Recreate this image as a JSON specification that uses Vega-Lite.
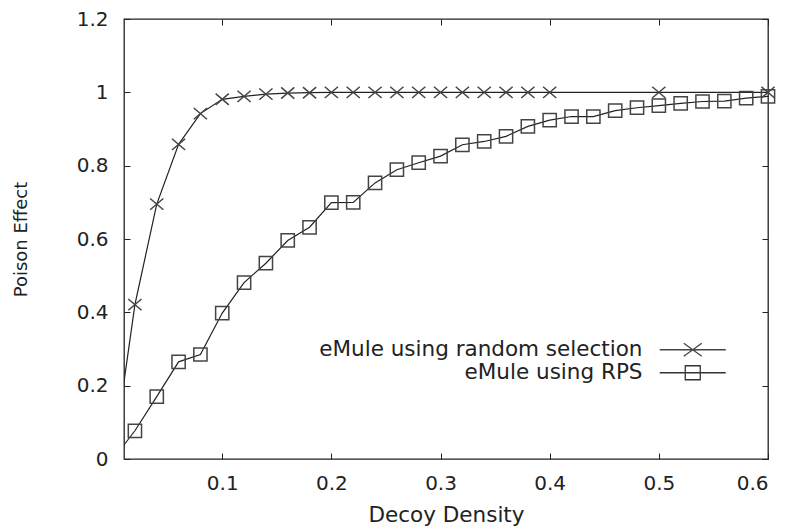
{
  "$schema": "https://vega.github.io/schema/vega-lite/v6.json",
  "width": 644,
  "height": 440,
  "autosize": {"type": "none"},
  "padding": {"left": 124, "top": 19, "right": 24, "bottom": 72},
  "background": "white",
  "config": {
    "view": {"stroke": "#222", "strokeWidth": 1.3},
    "axis": {
      "labelFont": "DejaVu Sans",
      "labelFontSize": 20,
      "labelColor": "#222",
      "titleFont": "DejaVu Sans",
      "titleFontWeight": "normal",
      "titleColor": "#222",
      "tickColor": "#222",
      "tickWidth": 1,
      "tickSize": -6,
      "domain": false,
      "grid": false
    },
    "legend": {
      "title": null,
      "orient": "none",
      "padding": 0,
      "labelFont": "DejaVu Sans",
      "labelFontSize": 21.5,
      "labelColor": "#222",
      "labelAlign": "right",
      "labelOffset": -61,
      "labelLimit": 600,
      "symbolSize": 4,
      "rowPadding": 0,
      "symbolStrokeWidth": 1.3,
      "symbolStrokeColor": "#333",
      "symbolFillColor": "transparent",
      "symbolOpacity": 1
    }
  },
  "data": {
    "values": [
      {"series": "eMule using random selection", "x": 0.0, "y": 0.0},
      {"series": "eMule using random selection", "x": 0.02, "y": 0.421},
      {"series": "eMule using random selection", "x": 0.04, "y": 0.695},
      {"series": "eMule using random selection", "x": 0.06, "y": 0.858},
      {"series": "eMule using random selection", "x": 0.08, "y": 0.942},
      {"series": "eMule using random selection", "x": 0.10, "y": 0.981},
      {"series": "eMule using random selection", "x": 0.12, "y": 0.989},
      {"series": "eMule using random selection", "x": 0.14, "y": 0.995},
      {"series": "eMule using random selection", "x": 0.16, "y": 0.998},
      {"series": "eMule using random selection", "x": 0.18, "y": 0.999},
      {"series": "eMule using random selection", "x": 0.20, "y": 1.0},
      {"series": "eMule using random selection", "x": 0.22, "y": 1.0},
      {"series": "eMule using random selection", "x": 0.24, "y": 1.0},
      {"series": "eMule using random selection", "x": 0.26, "y": 1.0},
      {"series": "eMule using random selection", "x": 0.28, "y": 1.0},
      {"series": "eMule using random selection", "x": 0.30, "y": 1.0},
      {"series": "eMule using random selection", "x": 0.32, "y": 1.0},
      {"series": "eMule using random selection", "x": 0.34, "y": 1.0},
      {"series": "eMule using random selection", "x": 0.36, "y": 1.0},
      {"series": "eMule using random selection", "x": 0.38, "y": 1.0},
      {"series": "eMule using random selection", "x": 0.40, "y": 1.0},
      {"series": "eMule using random selection", "x": 0.50, "y": 1.0},
      {"series": "eMule using random selection", "x": 0.60, "y": 1.0},
      {"series": "eMule using RPS", "x": 0.0, "y": 0.0},
      {"series": "eMule using RPS", "x": 0.02, "y": 0.077},
      {"series": "eMule using RPS", "x": 0.04, "y": 0.170},
      {"series": "eMule using RPS", "x": 0.06, "y": 0.265},
      {"series": "eMule using RPS", "x": 0.08, "y": 0.285},
      {"series": "eMule using RPS", "x": 0.10, "y": 0.398},
      {"series": "eMule using RPS", "x": 0.12, "y": 0.481},
      {"series": "eMule using RPS", "x": 0.14, "y": 0.534},
      {"series": "eMule using RPS", "x": 0.16, "y": 0.596},
      {"series": "eMule using RPS", "x": 0.18, "y": 0.632},
      {"series": "eMule using RPS", "x": 0.20, "y": 0.699},
      {"series": "eMule using RPS", "x": 0.22, "y": 0.700},
      {"series": "eMule using RPS", "x": 0.24, "y": 0.753},
      {"series": "eMule using RPS", "x": 0.26, "y": 0.789},
      {"series": "eMule using RPS", "x": 0.28, "y": 0.808},
      {"series": "eMule using RPS", "x": 0.30, "y": 0.826},
      {"series": "eMule using RPS", "x": 0.32, "y": 0.857},
      {"series": "eMule using RPS", "x": 0.34, "y": 0.866},
      {"series": "eMule using RPS", "x": 0.36, "y": 0.880},
      {"series": "eMule using RPS", "x": 0.38, "y": 0.907},
      {"series": "eMule using RPS", "x": 0.40, "y": 0.924},
      {"series": "eMule using RPS", "x": 0.42, "y": 0.934},
      {"series": "eMule using RPS", "x": 0.44, "y": 0.934},
      {"series": "eMule using RPS", "x": 0.46, "y": 0.950},
      {"series": "eMule using RPS", "x": 0.48, "y": 0.958},
      {"series": "eMule using RPS", "x": 0.50, "y": 0.964},
      {"series": "eMule using RPS", "x": 0.52, "y": 0.970},
      {"series": "eMule using RPS", "x": 0.54, "y": 0.975},
      {"series": "eMule using RPS", "x": 0.56, "y": 0.976},
      {"series": "eMule using RPS", "x": 0.58, "y": 0.984},
      {"series": "eMule using RPS", "x": 0.60, "y": 0.989}
    ]
  },
  "layer": [
    {
      "mark": {"type": "line", "clip": true, "color": "#222", "strokeWidth": 1.2},
      "encoding": {
        "x": {
          "field": "x", "type": "quantitative",
          "scale": {"domain": [0.01, 0.6], "nice": false, "zero": false},
          "axis": {"orient": "bottom", "values": [0.1, 0.2, 0.3, 0.4, 0.5, 0.6], "format": "~g", "labelPadding": 20, "title": "Decoy Density", "titleFontSize": 21.5, "titlePadding": 11}
        },
        "y": {
          "field": "y", "type": "quantitative",
          "scale": {"domain": [0, 1.2], "nice": false, "zero": false},
          "axis": {"orient": "left", "values": [0, 0.2, 0.4, 0.6, 0.8, 1, 1.2], "format": "~g", "labelPadding": 22, "title": "Poison Effect", "titleFontSize": 18, "titlePadding": 46}
        },
        "detail": {"field": "series"}
      }
    },
    {
      "transform": [{"filter": "datum.x > 0.005"}],
      "mark": {"type": "point", "filled": false, "size": 175, "strokeWidth": 1.5},
      "encoding": {
        "x": {
          "field": "x", "type": "quantitative",
          "scale": {"domain": [0.01, 0.6], "nice": false, "zero": false},
          "axis": {"orient": "top", "values": [0.1, 0.2, 0.3, 0.4, 0.5, 0.6], "labels": false, "title": null}
        },
        "y": {
          "field": "y", "type": "quantitative",
          "scale": {"domain": [0, 1.2], "nice": false, "zero": false},
          "axis": {"orient": "right", "values": [0, 0.2, 0.4, 0.6, 0.8, 1, 1.2], "labels": false, "title": null}
        },
        "shape": {
          "field": "series", "type": "nominal",
          "scale": {
            "domain": ["eMule using RPS", "eMule using random selection", "none"],
            "range": ["square", "M-1,-0.85L1,0.85M-1,0.85L1,-0.85", "circle"]
          },
          "legend": null
        },
        "color": {
          "field": "series", "type": "nominal",
          "scale": {
            "domain": ["eMule using random selection", "eMule using RPS"],
            "range": ["#444", "#444"]
          },
          "legend": {
            "values": ["eMule using random selection"],
            "legendX": 558,
            "legendY": 320,
            "symbolType": "M-33,0L33,0M-9,-6.5L9,6.5M-9,6.5L9,-6.5"
          }
        },
        "opacity": {
          "field": "series", "type": "nominal",
          "scale": {
            "domain": ["eMule using RPS", "eMule using random selection"],
            "range": [1, 1]
          },
          "legend": {
            "values": ["eMule using RPS"],
            "legendX": 558,
            "legendY": 343,
            "symbolType": "M-33,0L33,0M-7.5,-7L7.5,-7L7.5,7L-7.5,7Z"
          }
        }
      }
    }
  ],
  "resolve": {"axis": {"x": "independent", "y": "independent"}}
}
